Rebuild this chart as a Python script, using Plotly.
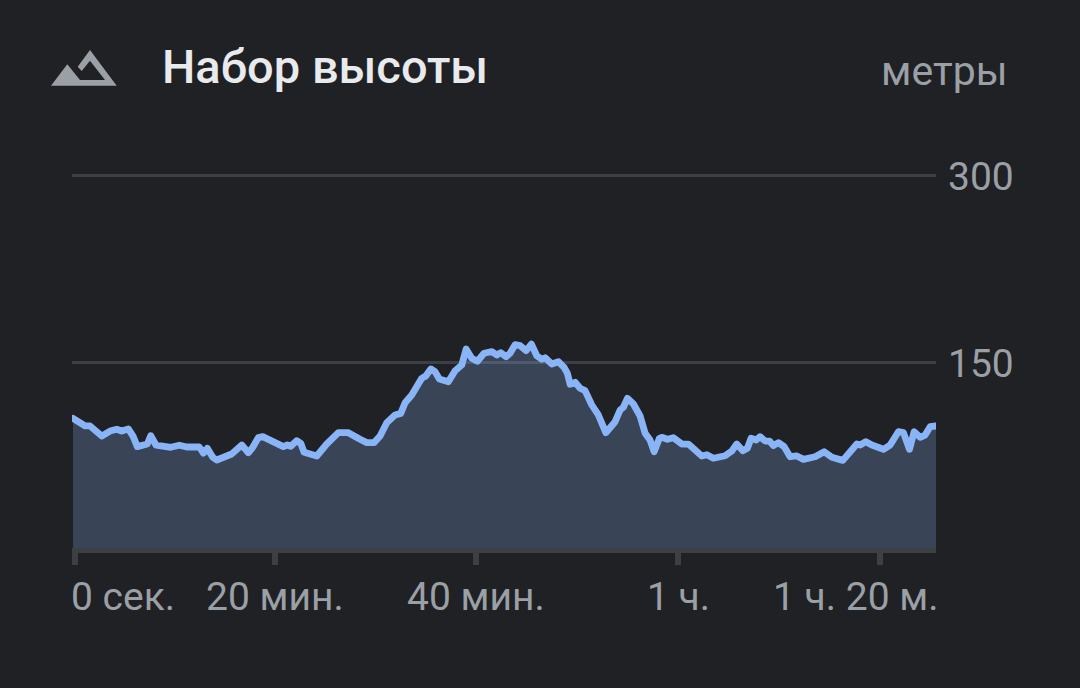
import plotly.graph_objects as go

# время в минутах и высота в метрах
minutes = [0, 0.69, 1.19, 1.69, 2.85, 3.67, 4.34, 4.83, 5.49, 5.98, 6.38, 7.37, 7.71, 8.23, 8.96, 9.69,
           10.55, 11.28, 12.53, 12.93, 13.32, 13.86, 14.26, 15.08, 15.74, 16.74, 17.39, 17.83, 18.38, 18.82, 19.71,
           20.37, 20.86, 21.26, 21.6, 22.19, 22.59, 22.92, 24.18, 25.17, 26.32, 27.31, 28.14, 28.47, 29.14, 29.86,
           30.46, 31.12, 31.94, 32.51, 32.94, 33.6, 34.59, 34.99, 35.49, 35.91, 36.34, 37.23, 37.9, 38.56, 38.99, 39.55,
           40.11, 40.77, 41.54, 42.03, 42.43, 42.96, 43.35, 43.85, 44.35, 44.94, 45.47, 46.0, 46.5, 46.83, 47.49, 48.15, 48.71, 49.04, 49.31, 49.8,
           50.3, 50.79, 51.46, 52.11, 52.85, 53.44, 53.77, 54.27, 54.59, 54.99, 55.59, 56.25, 56.75, 57.24, 57.64, 58.16, 58.4, 58.96, 59.55,
           60.39, 61.04, 62.37, 62.87, 63.52, 64.68, 65.35, 65.84, 66.44, 66.89, 67.26, 67.76, 68.15, 68.65, 69.08, 69.47, 69.97,
           70.54, 71.13, 71.8, 72.45, 73.61, 74.51, 75.27, 76.36, 77.75, 78.08, 78.64, 79.24,
           80.39, 81.05, 81.87, 82.37, 82.97, 83.43, 84.03, 84.52, 85.02, 85.6]
elevation = [105.6, 102.9, 99.5, 99.5, 91.4, 95.4, 96.8, 95.4, 97.1, 90.9, 82.9, 85.0, 91.7, 84.2, 83.7, 82.4,
             84.0, 82.6, 82.6, 77.6, 81.6, 74.4, 72.2, 74.8, 77.0, 84.2, 78.0, 82.4, 90.1, 90.9, 87.7,
             86.1, 82.9, 84.2, 83.2, 87.7, 85.6, 78.4, 75.4, 85.0, 94.1, 94.1, 89.6, 88.8, 86.1, 86.1,
             91.4, 102.1, 108.3, 109.6, 118.1, 124.3, 137.7, 139.6, 145.2, 143.0, 137.2, 135.0, 143.8, 148.4, 161.2, 153.8,
             151.4, 157.8, 159.1, 156.4, 158.3, 155.0, 157.8, 164.7, 163.9, 159.9, 165.2, 155.8, 153.0, 154.2, 149.2, 151.0, 146.5, 141.7, 132.9, 134.5,
             129.7, 127.8, 116.3, 108.3, 94.1, 100.3, 102.9, 112.3, 114.5, 121.7, 117.1, 107.5, 93.6, 88.2, 78.8, 89.6, 90.4, 88.8, 90.1,
             85.0, 85.0, 75.4, 76.4, 73.6, 75.6, 79.4, 85.0, 79.6, 81.6, 89.6, 88.2, 90.9, 87.4, 87.4, 83.7, 86.1,
             82.9, 74.8, 75.4, 72.7, 74.8, 78.8, 74.4, 71.9, 85.0, 84.2, 86.9, 84.2,
             80.8, 84.2, 94.9, 94.1, 80.8, 94.9, 90.4, 92.2, 98.9, 99.5]

y_ticks = [150, 300]
x_ticks = [0, 20, 40, 60, 80]
x_labels = ["0 сек.", "20 мин.", "40 мин.", "1 ч.", "1 ч. 20 м."]
x_anchors = ["left", "center", "center", "center", "right"]
x_shifts = [-4, 0, 0, 1, 60]

BG = "#202124"
GRID = "#3c4043"
MUTED = "#9aa0a6"
FONT = "Roboto"

# значки рисуем в пикселях страницы, здесь перевод в доли области графика
L, R, T, B = 72, 936, 171, 548


def to_paper(px, py):
	return (px - L) / (R - L), (B - py) / (B - T)


def icon_path(points):
	parts = []
	for i, (px, py) in enumerate(points):
		xp, yp = to_paper(px, py)
		parts.append(("M" if i == 0 else "L") + f"{xp:.5f},{yp:.5f}")
	return " ".join(parts) + " Z"


mountain = [(51, 85.7), (67.3, 64.3), (80, 80), (105, 80), (90, 60.7), (81.7, 71),
            (77.7, 66.7), (90, 50), (116.7, 85.7)]

fig = go.Figure()
fig.add_trace(go.Scatter(
	x=minutes, y=elevation, mode="lines",
	line=dict(color="#8ab4f8", width=6.8, shape="linear"),
	fill="tozeroy", fillcolor="rgba(138,180,248,0.24)",
	cliponaxis=False, hoverinfo="skip",
))

# первая засечка прижата к левому краю, как в оригинале
tick_positions = [0.2] + x_ticks[1:]

fig.update_layout(
	width=1080, height=688,
	paper_bgcolor=BG, plot_bgcolor=BG,
	margin=dict(l=L, r=1080 - R, t=T, b=688 - B, autoexpand=False),
	showlegend=False,
	font=dict(family=FONT, color=MUTED, size=39),
	xaxis=dict(
		range=[-0.1, 85.6], showgrid=False, zeroline=False,
		showline=True, linecolor=GRID, linewidth=5,
		tickmode="array", tickvals=tick_positions, ticktext=[""] * len(x_ticks),
		ticks="outside", ticklen=12, tickwidth=6, tickcolor=GRID,
	),
	yaxis=dict(
		# верх чуть выше 300, иначе plotly прячет линию сетки на краю
		range=[1.6, 304], side="right", showgrid=True, gridcolor=GRID, gridwidth=2.5,
		zeroline=False, showline=False,
		tickmode="array", tickvals=y_ticks, ticks="",
		tickfont=dict(size=39, color=MUTED), ticklabelstandoff=11,
	),
	shapes=[dict(type="path", xref="paper", yref="paper", path=icon_path(mountain),
	             fillcolor=MUTED, line=dict(width=0))],
)

for val, label, anchor, shift in zip(x_ticks, x_labels, x_anchors, x_shifts):
	fig.add_annotation(x=val, y=0, xref="x", yref="paper", yanchor="top", xanchor=anchor,
	                   text=label, showarrow=False, yshift=-24, xshift=shift,
	                   font=dict(size=39, color=MUTED))

# заголовок и подпись тоже заданы в пикселях
title_x, title_y = to_paper(160, 67)
unit_x, unit_y = to_paper(1010, 71)
fig.add_annotation(x=title_x, y=title_y, text="Набор высоты", showarrow=False, xanchor="left", yanchor="middle",
                   xref="paper", yref="paper", font=dict(size=47, color="#e8eaed", weight=500))
fig.add_annotation(x=unit_x, y=unit_y, text="метры", showarrow=False, xanchor="right", yanchor="middle",
                   xref="paper", yref="paper", font=dict(size=41, color=MUTED))

# убираем поля страницы и скругляем изломы линии
post = """
document.body.style.margin = '0';
document.body.style.background = '#202124';
document.querySelectorAll('.scatterlayer .js-line').forEach(function (p) {
	p.style.strokeLinejoin = 'round';
	p.style.strokeLinecap = 'round';
});
"""
fig.write_html("out.html", post_script=post, config={"displayModeBar": False})
